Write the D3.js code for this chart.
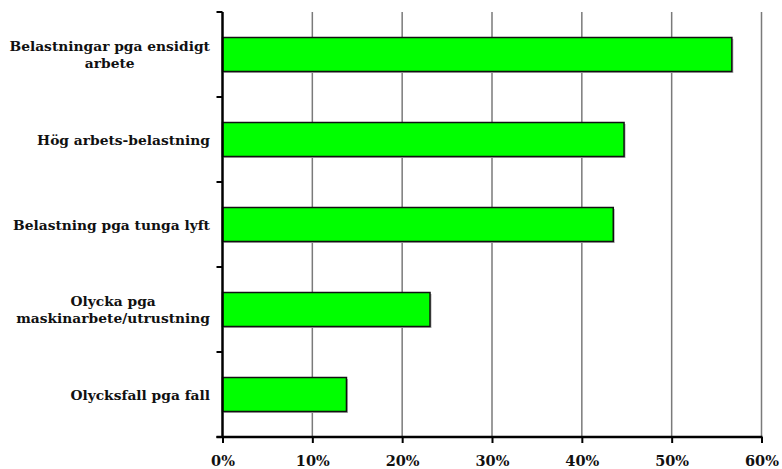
<!DOCTYPE html>
<html>
<head>
<meta charset="utf-8">
<script src="https://cdn.jsdelivr.net/npm/d3@7"></script>
<style>
  body { margin: 0; background: #fff; }
  text { font-family: "DejaVu Serif", Georgia, serif; font-weight: bold; fill: #111; }
</style>
</head>
<body>
<div id="chart"></div>
<script>
//--------------------------------------------------------------
// DATA
//--------------------------------------------------------------
var categories = [
   ["Belastningar pga ensidigt", "arbete"],
   ["Hög arbets-belastning"],
   ["Belastning pga tunga lyft"],
   ["Olycka pga", "maskinarbete/utrustning"],
   ["Olycksfall pga fall"]
];
var values = [56.7, 44.7, 43.5, 23.1, 13.8];
var tickValues = [0, 10, 20, 30, 40, 50, 60];

//--------------------------------------------------------------
// SIZE
//--------------------------------------------------------------
var width = 782;
var height = 469;
var margin = { top: 12, right: 20, bottom: 32, left: 222.5 };
var chartWidth = 761.5 - margin.left;
var chartHeight = 437 - margin.top;

var svg = d3.select("#chart").append("svg")
   .attr("width", width)
   .attr("height", height);

var chartGroup = svg.append("g")
   .attr("transform", `translate(${margin.left}, ${margin.top})`);

var xScale = d3.scaleLinear().domain([0, 60]).range([0, chartWidth]);
var yScale = d3.scaleBand()
   .domain(d3.range(categories.length))
   .range([0, chartHeight])
   .paddingInner(0.6)
   .paddingOuter(0.3);

// vertical gridlines
chartGroup.selectAll("line.grid")
   .data(tickValues.slice(1))
   .enter()
   .append("line")
   .attr("x1", d => xScale(d))
   .attr("x2", d => xScale(d))
   .attr("y1", 0)
   .attr("y2", chartHeight)
   .attr("stroke", "#7a7a7a")
   .attr("stroke-width", 1.5);

// bars (shadow first)
chartGroup.selectAll("rect.shadow")
   .data(values)
   .enter()
   .append("rect")
   .attr("x", 1.5)
   .attr("y", (d, i) => yScale(i) + 1.5)
   .attr("width", d => xScale(d))
   .attr("height", yScale.bandwidth())
   .attr("fill", "#b0b0b0");

chartGroup.selectAll("rect.bar")
   .data(values)
   .enter()
   .append("rect")
   .attr("x", 0)
   .attr("y", (d, i) => yScale(i))
   .attr("width", d => xScale(d))
   .attr("height", yScale.bandwidth())
   .attr("fill", "#00ff00")
   .attr("stroke", "#111")
   .attr("stroke-width", 1.5);

// x axis
var bottomAxis = d3.axisBottom(xScale)
   .tickValues(tickValues)
   .tickFormat(d => d + "%")
   .tickSize(6)
   .tickSizeOuter(0);
var xAxis = chartGroup.append("g")
   .attr("transform", `translate(0, ${chartHeight})`)
   .call(bottomAxis);
xAxis.select(".domain").remove();
xAxis.append("line")
   .attr("x1", -6).attr("x2", chartWidth + 1)
   .attr("stroke", "#000").attr("stroke-width", 2.5);
xAxis.selectAll(".tick line").attr("stroke", "#000").attr("stroke-width", 2);
xAxis.selectAll(".tick text")
   .attr("y", 19)
   .attr("font-size", 14.5)
   .attr("font-family", "\"DejaVu Serif\", serif")
   .attr("fill", "#111");

// y axis with ticks on band boundaries
var yAxis = chartGroup.append("g");
yAxis.append("line")
   .attr("x1", 0).attr("x2", 0)
   .attr("y1", 0).attr("y2", chartHeight)
   .attr("stroke", "#000").attr("stroke-width", 2.5);
yAxis.selectAll("line.ytick")
   .data(d3.range(categories.length + 1))
   .enter()
   .append("line")
   .attr("x1", -6).attr("x2", 0)
   .attr("y1", i => i * chartHeight / categories.length)
   .attr("y2", i => i * chartHeight / categories.length)
   .attr("stroke", "#000").attr("stroke-width", 2);

// category labels, centered block, right edge at 210
var labelRight = 210;
var lineH = 17;
categories.forEach(function(lines, i) {
   var cy = margin.top + yScale(i) + yScale.bandwidth() / 2;
   var g = svg.append("g");
   var texts = lines.map(function(t, j) {
      return g.append("text")
         .attr("y", cy + (j - (lines.length - 1) / 2) * lineH + 5)
         .attr("text-anchor", "middle")
         .attr("font-size", 13.8)
         .text(t);
   });
   var maxW = d3.max(texts, t => t.node().getComputedTextLength());
   texts.forEach(t => t.attr("x", labelRight - maxW / 2));
});
</script>
</body>
</html>
